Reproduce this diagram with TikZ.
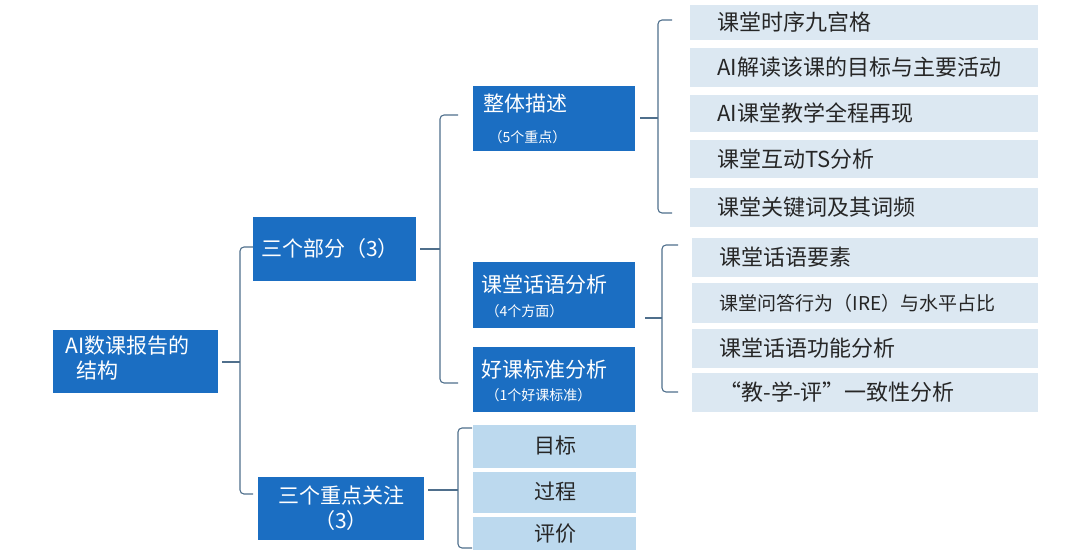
\documentclass[tikz,border=0pt]{standalone}
\usepackage{fontspec}
\setmainfont{Noto Sans CJK SC}
\definecolor{dk}{HTML}{1B6EC2}
\definecolor{lt}{HTML}{DCE8F2}
\definecolor{lt2}{HTML}{BCD9EE}
\definecolor{br}{HTML}{4F6F8C}
\tikzset{
 dbox/.style={fill=dk,text=white,inner sep=0pt,anchor=north west},
 gbox/.style={fill=lt2,inner sep=0pt,anchor=north west},
 brk/.style={draw=br,line width=1.1pt,rounded corners=4pt}
}
\newcommand{\rbox}[6]{\node[#1,minimum width=#4pt,minimum height=#5pt] (#6) at (#2,#3) {};}
\newcommand{\mybrace}[7]{% name x top bottom mid tickfrom hook
 \draw[brk] (#7,#3) -- (#2,#3) -- (#2,#4) -- (#7,#4);
 \draw[brk] (#6,#5) -- (#2,#5);}
\begin{document}
\begin{tikzpicture}[x=1pt,y=-1pt]
\useasboundingbox (0,0) rectangle (1080,550);
% dark boxes
\rbox{dbox}{53}{330}{165}{63}{root}
\node[white,font=\fontsize{21}{25}\selectfont,align=left,anchor=north west] at (62,332) {AI数课报告的\\\hspace*{0.5em}结构};
\rbox{dbox}{253}{217}{163}{64}{sbf}
\node[white,font=\fontsize{21}{24}\selectfont] at (330,249) {三个部分（3）};
\rbox{dbox}{258}{477}{166}{63}{zdgz}
\node[white,font=\fontsize{21}{25}\selectfont,align=center] at (341,508) {三个重点关注\\（3）};
\rbox{dbox}{473}{86}{162}{65}{ztms}
\node[white,font=\fontsize{21}{24}\selectfont,anchor=west] at (480,103) {整体描述};
\node[white,font=\fontsize{14}{16}\selectfont,anchor=west] at (485,137) {（5个重点）};
\rbox{dbox}{473}{262}{162}{66}{hyfx}
\node[white,font=\fontsize{21}{24}\selectfont,anchor=west] at (478,285) {课堂话语分析};
\node[white,font=\fontsize{14}{16}\selectfont,anchor=west] at (482,311) {（4个方面）};
\rbox{dbox}{473}{347}{162}{65}{hkbz}
\node[white,font=\fontsize{21}{24}\selectfont,anchor=west] at (478,370) {好课标准分析};
\node[white,font=\fontsize{14}{16}\selectfont,anchor=west] at (482,395) {（1个好课标准）};
% light small boxes
\rbox{gbox}{473}{425}{163}{43}{mb}
\node[font=\fontsize{21}{24}\selectfont,text=black!85] at (555,446) {目标};
\rbox{gbox}{473}{472}{163}{41}{gc}
\node[font=\fontsize{21}{24}\selectfont,text=black!85] at (555,492) {过程};
\rbox{gbox}{473}{517}{163}{33}{pj}
\node[font=\fontsize{21}{24}\selectfont,text=black!85] at (555,534) {评价};
% right lists
\foreach \t/\b/\s [count=\i] in {5/40/课堂时序九宫格,48/87/AI解读该课的目标与主要活动,95/132/AI课堂教学全程再现,140/178/课堂互动TS分析,188/227/课堂关键词及其词频}{
 \fill[lt] (690,\t) rectangle (1038,\b);
 \node[anchor=west,font=\fontsize{22}{25}\selectfont,text=black!85] (r\i) at (714,{(\t+\b)/2}) {\s};
}
\foreach \t/\b/\s [count=\i] in {238/277/课堂话语要素,283/323/{\fontsize{19}{22}\selectfont 课堂问答行为（IRE）与水平占比},329/368/课堂话语功能分析,373/412/“教-学-评”一致性分析}{
 \fill[lt] (692,\t) rectangle (1038,\b);
 \node[anchor=west,font=\fontsize{22}{25}\selectfont,text=black!85] (s\i) at (716,{(\t+\b)/2}) {\s};
}
% braces
\mybrace{A}{240}{247}{494}{362}{222}{253}
\mybrace{B}{440}{115}{383}{249}{420}{458}
\mybrace{C}{658}{20}{213}{118}{640}{672}
\mybrace{D}{662}{245}{392}{318}{645}{678}
\mybrace{E}{458}{428}{548}{490}{428}{472}
\end{tikzpicture}
\end{document}
